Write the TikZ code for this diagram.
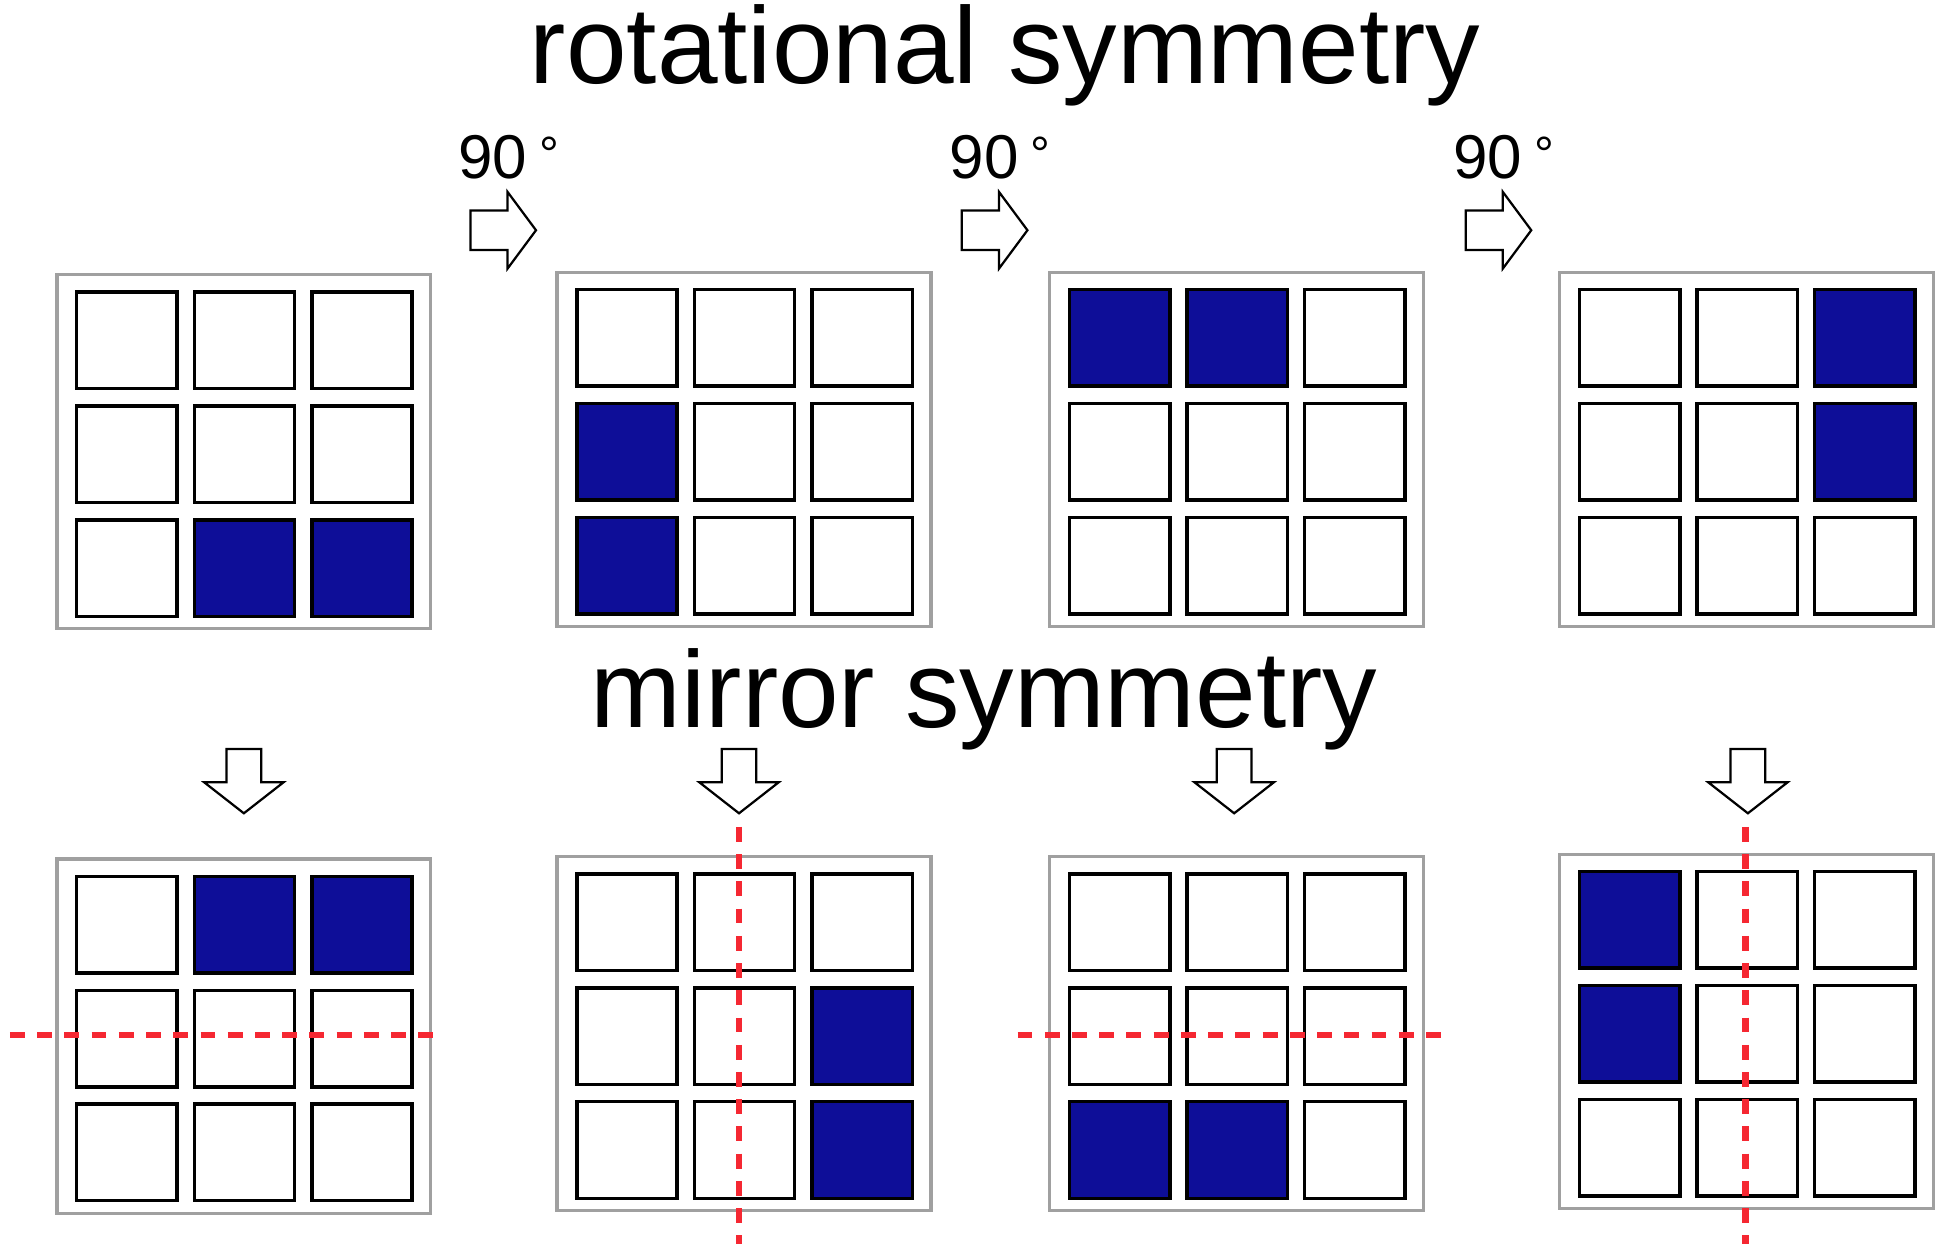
\documentclass[tikz,border=0pt]{standalone}
\usepackage{fontspec}
\setmainfont{Liberation Sans}
\definecolor{cellblue}{RGB}{14,14,152}
\definecolor{framegray}{RGB}{160,160,160}
\definecolor{mirrorred}{RGB}{245,40,50}
\tikzset{
 frame/.style={draw=framegray,line width=2.6pt},
 cell/.style={draw=black,line width=2.8pt,fill=white},
 blue/.style={draw=black,line width=2.8pt,fill=cellblue},
 blockarrow/.style={draw=black,line width=1.8pt,fill=white,line join=miter},
 mirror/.style={draw=mirrorred,line width=5pt,dash pattern=on 12pt off 10pt},
 title/.style={font=\fontsize{88}{90}\selectfont,inner sep=0pt},
 deg/.style={font=\fontsize{50}{52}\selectfont,inner sep=0pt}
}
\newcommand\mypanel[3]{%
 \draw[frame] (#1,#2) rectangle ++(302,286);
 \foreach \r in {1,2,3}{\foreach \c in {1,2,3}{
  \draw[cell] ({#1+16+95*(\c-1)},{#2+14+92*(\r-1)}) rectangle ++(81,78);}}
 \foreach \r/\c in {#3}{
  \draw[blue] ({#1+16+95*(\c-1)},{#2+14+92*(\r-1)}) rectangle ++(81,78);}
}
\newcommand\rarrow[2]{% left x, center y
 \draw[blockarrow] (#1,#2-16) -- ++(30,0) -- ++(0,-15) -- ++(23,31) -- ++(-23,31) -- ++(0,-15) -- ++(-30,0) -- cycle;}
\newcommand\darrow[2]{% center x, top y
 \draw[blockarrow] (#1-14,#2) -- ++(28,0) -- ++(0,27) -- ++(18,0) -- ++(-32,25) -- ++(-32,-25) -- ++(18,0) -- cycle;}
\begin{document}
\begin{tikzpicture}[x=1pt,y=-1pt]
\useasboundingbox (0,0) rectangle (1568,1014);
\node[title] (t1) at (812,45) {rotational symmetry};
\node[title] (t2) at (795,565) {mirror symmetry};
\foreach \x/\n in {370/a,767/b,1174/c}{
 \node[deg,anchor=west] (d\n) at (\x,127) {90\hspace{10pt}\raisebox{6pt}{\fontsize{40}{40}\selectfont\textdegree}};
 \rarrow{\x+10}{186}}
\mypanel{46}{222}{3/2,3/3}
\mypanel{450}{220}{2/1,3/1}
\mypanel{848}{220}{1/1,1/2}
\mypanel{1260}{220}{1/3,2/3}
\foreach \x in {197,597,997,1412}{\darrow{\x}{605}}
\mypanel{46}{694}{1/2,1/3}
\mypanel{450}{692}{2/3,3/3}
\mypanel{848}{692}{3/1,3/2}
\mypanel{1260}{690}{1/1,2/1}
\draw[mirror] (8,836) -- (358,836);
\draw[mirror] (822,836) -- (1172,836);
\draw[mirror] (597,668) -- (597,1005);
\draw[mirror] (1410,668) -- (1410,1005);
\end{tikzpicture}
\end{document}
